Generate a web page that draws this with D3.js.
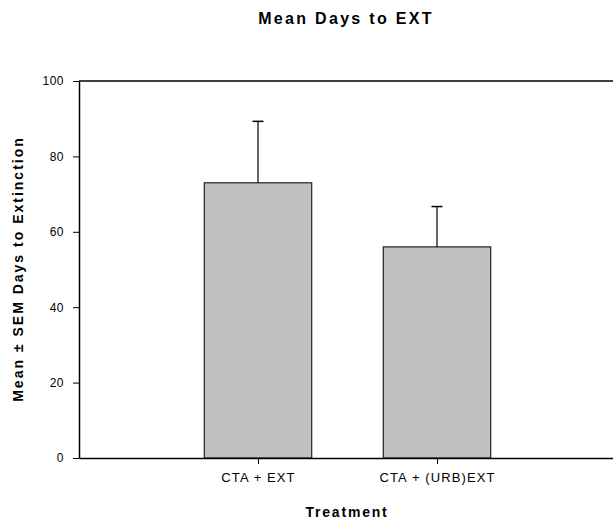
<!DOCTYPE html>
<html>
<head>
<meta charset="utf-8">
<script src="https://cdn.jsdelivr.net/npm/d3@7"></script>
<style>
  body { margin: 0; background: #fff; }
  text { font-family: "Liberation Sans", Arial, sans-serif; fill: #000; }
  .axis path, .axis line { stroke: #000; }
  .axis text { font-size: 12px; letter-spacing: 0.5px; }
  .x-axis text { font-size: 13px; letter-spacing: 1.1px; }
  .title { font-size: 16px; font-weight: bold; letter-spacing: 2.3px; }
  .axis_title { font-size: 14px; font-weight: bold; letter-spacing: 1.8px; }
  .y-title { letter-spacing: 2px; }
</style>
</head>
<body>
<svg id="chart"></svg>
<script>
// Data
const categories = ["CTA + EXT", "CTA + (URB)EXT"];
const categorySlots = [1, 2];          // positions on a 0..3 category axis
const means = [73, 56];
const sems = [16.3, 10.7];
const yTicks = [0, 20, 40, 60, 80, 100];

const width = 613, height = 522;
const margin = {top: 81, right: -3, bottom: 64, left: 79};
const innerW = width - margin.left - margin.right;
const innerH = height - margin.top - margin.bottom;

const svg = d3.select('#chart')
    .attr('width', width)
    .attr('height', height);

const chart = svg.append('g')
    .attr('transform', `translate(${margin.left},${margin.top})`);

const xScale = d3.scaleLinear().domain([0, 3]).range([0, innerW]);
const yScale = d3.scaleLinear().domain([0, 100]).range([innerH, 0]);
const barW = (xScale(1) - xScale(0)) * 0.6;

const bars = categories.map((c, i) => ({cat: c, slot: categorySlots[i], mean: means[i], sem: sems[i]}));

// top frame line
chart.append('line')
    .attr('x1', 0).attr('x2', innerW)
    .attr('y1', 0).attr('y2', 0)
    .attr('stroke', '#000')
    .attr('stroke-width', 1.5);

// bars
chart.selectAll('.bar')
    .data(bars)
    .join('rect')
    .attr('class', 'bar')
    .attr('x', d => xScale(d.slot) - barW / 2)
    .attr('y', d => yScale(d.mean))
    .attr('width', barW)
    .attr('height', d => yScale(0) - yScale(d.mean))
    .attr('fill', '#c0c0c0')
    .attr('stroke', '#222')
    .attr('stroke-width', 1.2);

// error bars (upper only)
chart.selectAll('.err')
    .data(bars)
    .join('line')
    .attr('class', 'err')
    .attr('x1', d => xScale(d.slot)).attr('x2', d => xScale(d.slot))
    .attr('y1', d => yScale(d.mean)).attr('y2', d => yScale(d.mean + d.sem))
    .attr('stroke', '#000')
    .attr('stroke-width', 1.2);

chart.selectAll('.cap')
    .data(bars)
    .join('line')
    .attr('class', 'cap')
    .attr('x1', d => xScale(d.slot) - 5.5).attr('x2', d => xScale(d.slot) + 5.5)
    .attr('y1', d => yScale(d.mean + d.sem)).attr('y2', d => yScale(d.mean + d.sem))
    .attr('stroke', '#000')
    .attr('stroke-width', 1.5);

// axes
const yAxis = d3.axisLeft(yScale)
    .tickValues(yTicks)
    .tickSize(6)
    .tickPadding(9)
    .tickSizeOuter(0);

const xAxis = d3.axisBottom(xScale)
    .tickValues(categorySlots)
    .tickFormat((d, i) => categories[i])
    .tickSize(6)
    .tickPadding(9)
    .tickSizeOuter(0);

chart.append('g')
    .attr('class', 'axis y-axis')
    .call(yAxis)
    .call(g => g.select('.domain').attr('stroke-width', 1.5));

chart.append('g')
    .attr('class', 'axis x-axis')
    .attr('transform', `translate(0,${innerH})`)
    .call(xAxis)
    .call(g => g.select('.domain').attr('stroke-width', 1.5));

// titles
svg.append('text')
    .attr('class', 'title')
    .attr('x', 346)
    .attr('y', 24)
    .attr('text-anchor', 'middle')
    .text('Mean Days to EXT');

svg.append('text')
    .attr('class', 'axis_title')
    .attr('x', 347)
    .attr('y', 517)
    .attr('text-anchor', 'middle')
    .text('Treatment');

svg.append('text')
    .attr('class', 'axis_title y-title')
    .attr('transform', `translate(23,269) rotate(-90)`)
    .attr('text-anchor', 'middle')
    .text('Mean \u00b1 SEM Days to Extinction');
</script>
</body>
</html>
